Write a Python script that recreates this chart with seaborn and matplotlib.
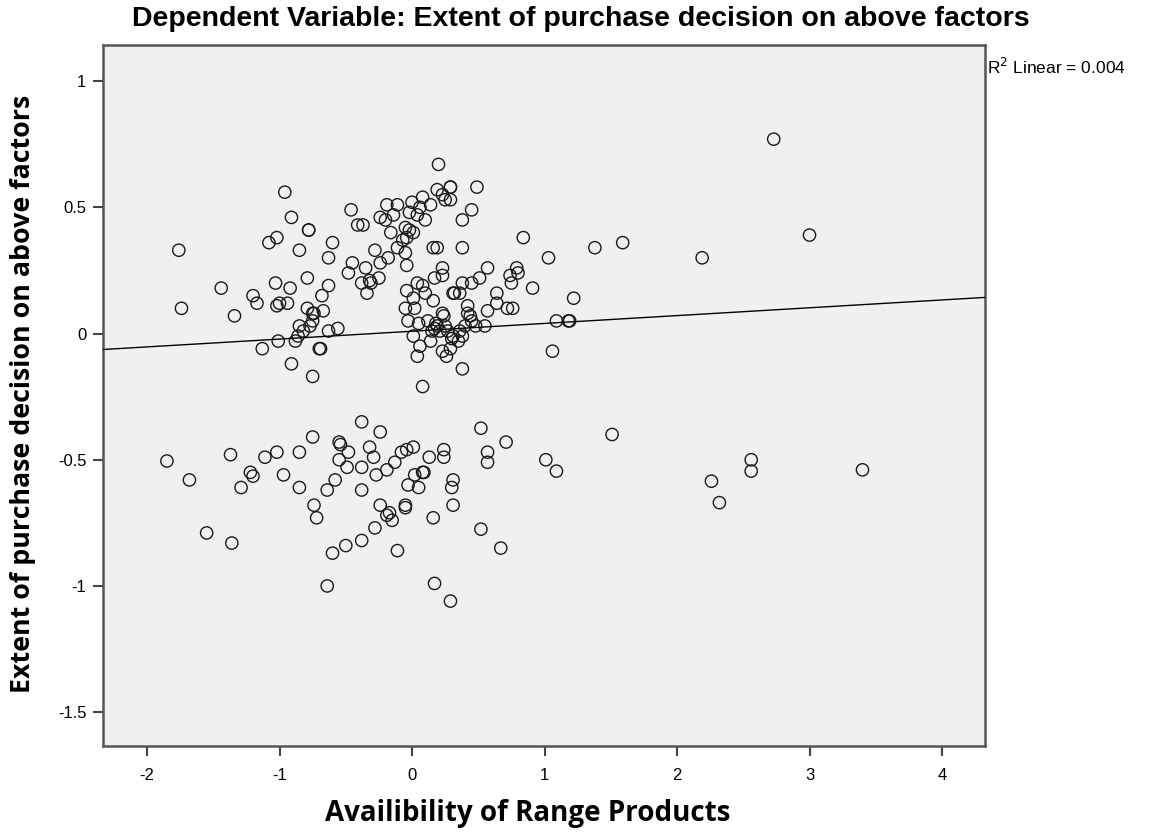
import matplotlib
matplotlib.use("Agg")
import matplotlib.pyplot as plt
import seaborn as sns
import numpy as np

# Partial regression residuals: availability of range products (x) vs. purchase decision (y)
resid_x = [
    -1.76, -1.44, -1.74, -1.34, -1.20, -1.17, -1.08, -1.02, -1.03, -1.02, -1.00, -1.13, -1.01, -0.96,
    -0.91, -0.78, -0.78, -0.85, -0.60, -0.63, -0.46, -0.41, -0.37, -0.45, -0.35, -0.28, -0.18, -0.24,
    -0.20, -0.19, -0.11, -0.14, -0.16, -0.05, -0.02, -0.04, -0.07, -0.11, -0.05, -0.24, -0.04, -0.02,
    0.20, 0.29, 0.29, 0.49, 0.29, 0.23, 0.19, 0.08, 0.14, 0.06, 0.00, 0.10, 0.04, 0.01, 0.45, 0.38,
    0.38, 0.16, 0.19, 0.84, 1.03, 0.57, 0.79, 0.23, 0.25,
    0.23, 0.17, 0.45, 0.51, 0.38, 0.74, 0.80, 0.75, 0.64, 0.91, 0.04, 0.08, 0.01, 0.31, 0.32, 0.36,
    0.16, 0.10, 0.42, 0.57, 0.64, 0.72, 0.76, 0.02, 0.05, 0.12, 0.23, 0.24, 0.19, 0.25, 0.21, 0.15,
    0.17, 0.42, 0.45, 0.44, 0.36, 0.31, 0.38, 0.48, 0.55, 0.01, 0.06, 0.04, 0.23, 0.29, 0.26, 0.30,
    0.38, 0.08,
    1.09, 1.18, 1.19, 1.06, 1.22, 1.38, 1.59, 2.19, 2.73, 3.00,
    0.18, 0.27, 0.35, 0.40, 0.14,
    -0.92, -0.79, -0.48, -0.38, -0.32, -0.31, -0.25, -0.34, -0.63, -0.68, -0.94, -0.79, -0.75, -0.74,
    -0.67, -0.75, -0.85, -0.82, -0.86, -0.77, -0.56, -0.63, -0.88, -0.70, -0.69, -0.91, -0.75, -0.04,
    -0.05, -0.03,
    -1.85, -1.68, -1.55, -1.36, -1.37, -1.29, -1.22, -1.20, -1.11, -1.02, -0.97, -0.85, -0.85,
    -0.38, -0.24, -0.75, -0.55, -0.54, -0.48, -0.55, -0.49, -0.32, -0.29, -0.38, -0.58, -0.64, -0.38,
    -0.27, -0.19, -0.13, -0.08, -0.04, 0.01, 0.13, 0.24, 0.24, 0.08, 0.09, 0.02, -0.03, 0.05, 0.31,
    0.30, -0.24, -0.17, -0.19, -0.15, -0.05, -0.05, 0.16, 0.31, -0.74, -0.72, -0.28, -0.38, -0.50,
    -0.60, -0.11, -0.64, 0.17, 0.29,
    0.52, 0.71, 0.57, 0.57, 1.01, 1.09, 1.51, 0.52, 0.67, 2.26, 2.32, 2.56, 2.56, 3.40,
]
resid_y = [
    0.33, 0.18, 0.10, 0.07, 0.15, 0.12, 0.36, 0.38, 0.20, 0.11, 0.12, -0.06, -0.03, 0.56,
    0.46, 0.41, 0.41, 0.33, 0.36, 0.30, 0.49, 0.43, 0.43, 0.28, 0.26, 0.33, 0.30, 0.46,
    0.45, 0.51, 0.51, 0.47, 0.40, 0.42, 0.41, 0.38, 0.37, 0.34, 0.32, 0.28, 0.27, 0.48,
    0.67, 0.58, 0.58, 0.58, 0.53, 0.55, 0.57, 0.54, 0.51, 0.50, 0.52, 0.45, 0.47, 0.40, 0.49, 0.45,
    0.34, 0.34, 0.34, 0.38, 0.30, 0.26, 0.26, 0.26, 0.53,
    0.23, 0.22, 0.20, 0.22, 0.20, 0.23, 0.24, 0.20, 0.16, 0.18, 0.20, 0.19, 0.14, 0.16, 0.16, 0.16,
    0.13, 0.16, 0.11, 0.09, 0.12, 0.10, 0.10, 0.10, 0.04, 0.05, 0.08, 0.07, 0.03, 0.03, 0.01, 0.01,
    0.02, 0.08, 0.05, 0.07, 0.01, -0.01, -0.01, 0.03, 0.03, -0.01, -0.05, -0.09, -0.07, -0.06, -0.09, -0.02,
    -0.14, -0.21,
    0.05, 0.05, 0.05, -0.07, 0.14, 0.34, 0.36, 0.30, 0.77, 0.39,
    0.04, 0.01, -0.03, 0.03, -0.03,
    0.18, 0.22, 0.24, 0.20, 0.21, 0.20, 0.22, 0.16, 0.19, 0.15, 0.12, 0.10, 0.08, 0.08,
    0.09, 0.05, 0.03, 0.01, -0.01, 0.03, 0.02, 0.01, -0.03, -0.06, -0.06, -0.12, -0.17, 0.17,
    0.10, 0.05,
    -0.505, -0.58, -0.79, -0.83, -0.48, -0.61, -0.55, -0.565, -0.49, -0.47, -0.56, -0.47, -0.61,
    -0.35, -0.39, -0.41, -0.43, -0.44, -0.47, -0.50, -0.53, -0.45, -0.49, -0.53, -0.58, -0.62, -0.62,
    -0.56, -0.54, -0.51, -0.47, -0.46, -0.45, -0.49, -0.46, -0.49, -0.55, -0.55, -0.56, -0.60, -0.61, -0.58,
    -0.61, -0.68, -0.71, -0.72, -0.74, -0.68, -0.69, -0.73, -0.68, -0.68, -0.73, -0.77, -0.82, -0.84,
    -0.87, -0.86, -1.00, -0.99, -1.06,
    -0.375, -0.43, -0.47, -0.51, -0.50, -0.545, -0.40, -0.775, -0.85, -0.585, -0.67, -0.50, -0.545, -0.54,
]

# Fitted linear trend and its R squared
fit_intercept = 0.009
fit_slope = 0.031
r_squared = 0.004

x_ticks = [-2, -1, 0, 1, 2, 3, 4]
y_ticks = [-1.5, -1, -0.5, 0, 0.5, 1]
y_tick_labels = ["-1.5", "-1", "-0.5", "0", "0.5", "1"]
x_limits = (-2.332, 4.325)
y_limits = (-1.634, 1.143)

title_text = "Dependent Variable: Extent of purchase decision on above factors"
x_label = "Availibility of Range Products"
y_label = "Extent of purchase decision on above factors"

sns.set_style("white")
plt.rcParams["font.family"] = ["Liberation Sans", "DejaVu Sans"]
plt.rcParams["text.color"] = "black"

fig = plt.figure(figsize=(11.63, 8.35), dpi=100)
ax = fig.add_axes([0.0886, 0.1066, 0.7584, 0.8395])
ax.set_facecolor("#f0f0f0")

sns.scatterplot(x=resid_x, y=resid_y, ax=ax, marker="o", s=78,
                facecolors="none", edgecolor="#1a1a1a", linewidth=1.0, zorder=3)

line_x = np.array(x_limits)
line_y = fit_intercept + fit_slope * line_x
sns.lineplot(x=line_x, y=line_y, ax=ax, color="black", linewidth=1.0, zorder=4)

ax.set_xlim(*x_limits)
ax.set_ylim(*y_limits)
ax.set_xticks(x_ticks)
ax.set_xticklabels([str(t) for t in x_ticks])
ax.set_yticks(y_ticks)
ax.set_yticklabels(y_tick_labels)
ax.tick_params(axis="both", direction="out", length=7, width=1.5, color="#444444",
               labelsize=12, labelcolor="black", pad=5)
ax.tick_params(axis="x", bottom=True, pad=9)
ax.tick_params(axis="y", left=True)
for side in ["left", "bottom", "top", "right"]:
    ax.spines[side].set_visible(True)
    ax.spines[side].set_color("#555555")
    ax.spines[side].set_linewidth(1.8)
ax.set_xlabel("")
ax.set_ylabel("")

label_font = ["Open Sans", "DejaVu Sans"]
fig.text(0.4996, 0.977, title_text, ha="center", va="center", fontsize=20.5, fontweight="bold")
fig.text(0.454, 0.0165, x_label, ha="center", va="baseline", fontsize=20, fontweight="bold",
         family=label_font)
fig.text(0.0195, 0.528, y_label, ha="center", va="center", rotation=90, fontsize=19.3,
         fontweight="bold", family=label_font)
ax.text(1.002, 0.9686, f"R$^2$ Linear = {r_squared:.3f}", transform=ax.transAxes,
        ha="left", va="center", fontsize=12.5)

fig.savefig("out.png", dpi=100, facecolor="white")
